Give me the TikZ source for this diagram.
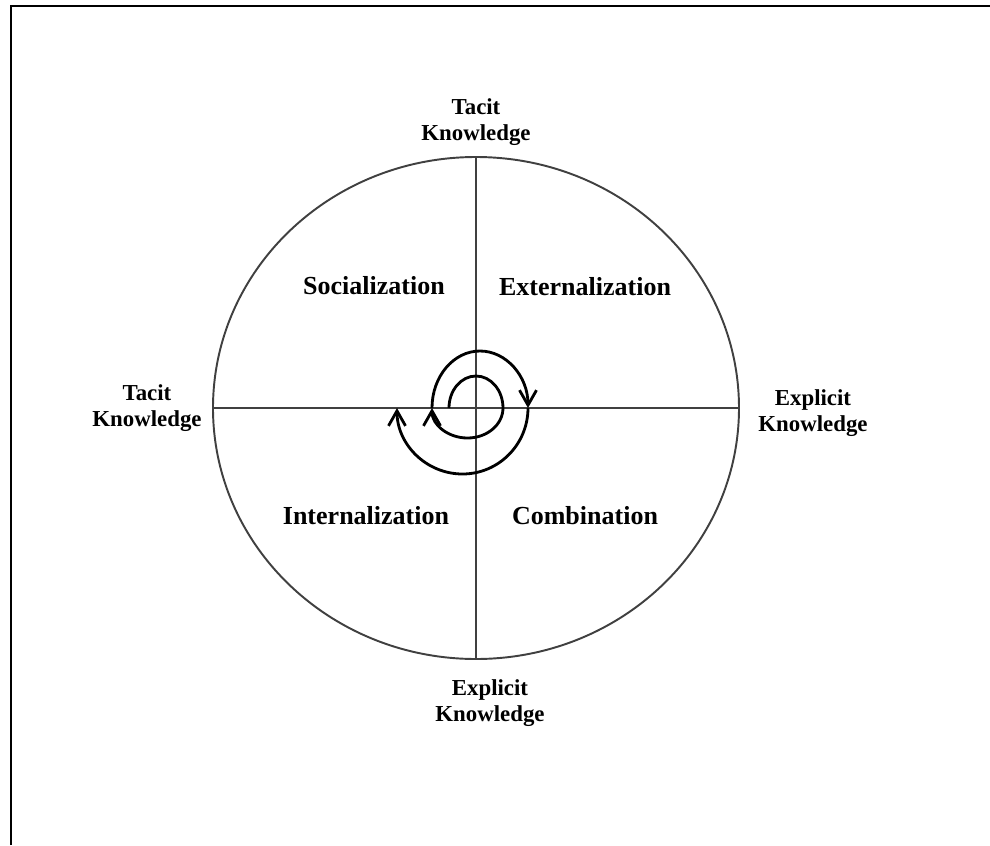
\documentclass[tikz,border=0pt]{standalone}
\usepackage{fontspec}
\setmainfont{Liberation Serif}
\usepackage{tikz}
\usetikzlibrary{arrows.meta,positioning}
\usetikzlibrary{shapes.geometric}
\tikzstyle{mode}=[font=\bfseries\fontsize{14.8}{17}\selectfont]
\tikzstyle{axis}=[font=\bfseries\fontsize{13}{14.8}\selectfont, align=center]
\tikzstyle{spiral}=[line width=1.6pt, -{Straight Barb[length=3mm,width=3.4mm,line width=1.6pt]}]

\begin{document}
\begin{tikzpicture}[>=stealth]
\useasboundingbox (-9.52,-8.74) rectangle (10.28,8.16);
\draw[line width=1.6pt] (-9.30,-8.74) |- (10.28,8.04);
% the knowledge circle and its quadrants
\node[draw, ellipse, black!75, line width=1.1pt, inner sep=0pt, minimum width=10.52cm, minimum height=10.04cm] (circ) at (0,0) {};
\draw[black!75, line width=1.1pt] (circ.north) -- (circ.south);
\draw[black!75, line width=1.1pt] (circ.west) -- (circ.east);
\node[mode] (soc) at (-2.04,2.44) {Socialization};
\node[mode] (ext) at (2.18,2.42) {Externalization};
\node[mode] (int) at (-2.20,-2.16) {Internalization};
\node[mode] (com) at (2.18,-2.16) {Combination};
\node[axis] (tt) at (0,5.72) {Tacit\\Knowledge};
\node[axis] (tl) at (-6.58,0) {Tacit\\Knowledge};
\node[axis] (er) at (6.74,-0.10) {Explicit\\Knowledge};
\node[axis] (eb) at (0.28,-5.90) {Explicit\\Knowledge};
% spiral
\coordinate (s0) at (-0.54,0);
\draw[spiral] (s0) arc[start angle=180, end angle=0, x radius=0.54, y radius=0.64]
  arc[start angle=0, end angle=-180, x radius=0.71, y radius=0.60] coordinate (s1);
\draw[spiral] (s1) arc[start angle=180, end angle=0, x radius=0.96, y radius=1.14] coordinate (s2);
\draw[spiral] (s2) arc[start angle=0, end angle=-180, x radius=1.31, y radius=1.32] coordinate (s3);
\end{tikzpicture}
\end{document}
